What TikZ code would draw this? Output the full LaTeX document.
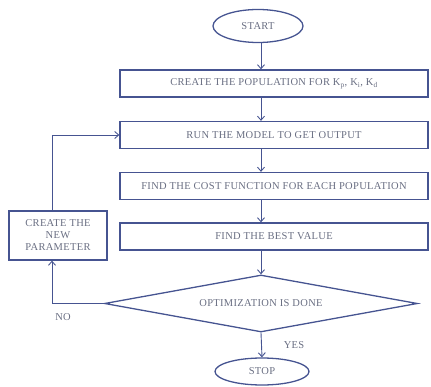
\documentclass[tikz,border=0pt]{standalone}
\usepackage{fontspec}
\setmainfont{Liberation Serif}
\newfontfamily\diagfont[LetterSpace=3]{Liberation Serif}
\usetikzlibrary{shapes.geometric,arrows.meta}
\definecolor{linec}{RGB}{70,84,145}
\definecolor{textc}{RGB}{105,110,130}
\tikzset{
  base/.style={draw=linec, text=textc, font=\diagfont\fontsize{10.5}{12}\selectfont, inner sep=1pt, align=center},
  procbox/.style={base, rectangle, line width=1.3pt, minimum width=308pt, minimum height=27pt},
  termin/.style={base, ellipse, line width=1.3pt},
  decis/.style={base, diamond, aspect=5.5, inner sep=0pt, line width=1.3pt, minimum width=313pt, minimum height=57pt},
  conn/.style={draw=linec, line width=0.9pt, -{Straight Barb[length=4pt,width=7pt]}},
  lbl/.style={text=textc, font=\diagfont\fontsize{10.5}{12}\selectfont, inner sep=0pt}
}
\begin{document}
\begin{tikzpicture}[x=1pt,y=-1pt]
\useasboundingbox (0,0) rectangle (431,387);
\node[termin, minimum width=90pt, minimum height=33pt] (start) at (258,26) {START};
\node[procbox] (b1) at (274,83.5) {CREATE THE POPULATION FOR K\textsubscript{p}, K\textsubscript{i}, K\textsubscript{d}};
\node[procbox] (b2) at (274,135) {RUN THE MODEL TO GET OUTPUT};
\node[procbox] (b3) at (274,186) {FIND THE COST FUNCTION FOR EACH POPULATION};
\node[procbox] (b4) at (274,236.5) {FIND THE BEST VALUE};
\node[decis] (d) at (261,303.5) {OPTIMIZATION IS DONE};
\node[termin, minimum width=94pt, minimum height=27pt] (stop) at (262,371.5) {STOP};
\node[base, rectangle, line width=1.3pt, minimum width=98pt, minimum height=49pt] (lb) at (58,235.5) {CREATE THE\\NEW\\PARAMETER};
\coordinate (lx) at (52,0);
\coordinate (ax) at (261,0);
\node[lbl] (yes) at (294,345) {YES};
\node[lbl] (no) at (63,317) {NO};
\draw[conn] (start.south -| ax) -- (b1.north -| ax);
\draw[conn] (b1.south -| ax) -- (b2.north -| ax);
\draw[conn] (b2.south -| ax) -- (b3.north -| ax);
\draw[conn] (b3.south -| ax) -- (b4.north -| ax);
\draw[conn] (b4.south -| d) -- (d.north);
\draw[conn] (d.south) -- (stop.north);
\draw[conn] (d.west) -| (lb.south -| lx);
\draw[conn] (lb.north -| lx) |- (b2.west);
\end{tikzpicture}
\end{document}
